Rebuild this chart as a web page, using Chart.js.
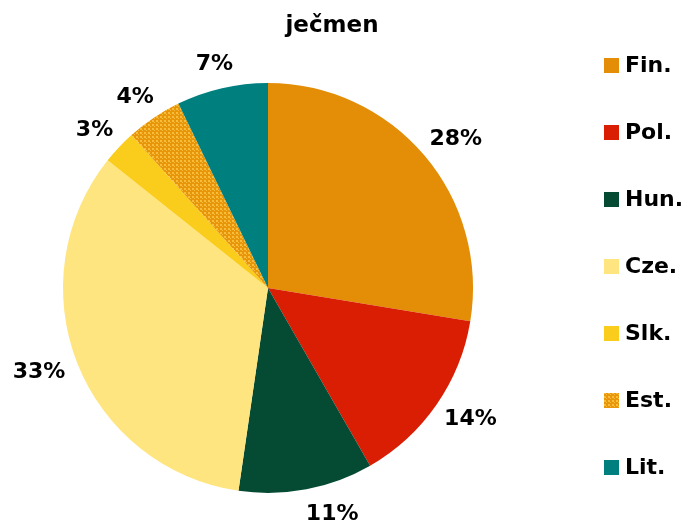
<!DOCTYPE html>
<html>
<head>
<meta charset="utf-8">
<script src="https://cdn.jsdelivr.net/npm/chart.js@4/dist/chart.umd.min.js"></script>
<style>
  html, body { margin: 0; padding: 0; background: #fff; }
  #wrap { width: 682px; height: 520px; }
</style>
</head>
<body>
<div id="wrap"><canvas id="c" width="682" height="520"></canvas></div>
<script>
// chart data (shares in %)
const titleText = 'ječmen';
const countries = ['Fin.', 'Pol.', 'Hun.', 'Cze.', 'Slk.', 'Est.', 'Lit.'];
const shares = [27.6, 14.1, 10.6, 33.4, 2.7, 4.4, 7.2];
const sliceColors = ['#E38E06', '#D91E04', '#054A32', '#FFE57F', '#FACC1C', null, '#007F7F'];

const FONT = '"DejaVu Sans", Verdana, sans-serif';

// dotted orange fill for Est.
function makeDots() {
    const p = document.createElement('canvas');
    p.width = 4; p.height = 4;
    const g = p.getContext('2d');
    g.fillStyle = '#E8950A';
    g.fillRect(0, 0, 4, 4);
    g.fillStyle = '#F7BE3C';
    g.fillRect(0, 0, 2, 2);
    g.fillRect(2, 2, 1, 1);
    return g.createPattern(p, 'repeat');
}

const ctx = document.getElementById('c').getContext('2d');
const dots = makeDots();
const fills = sliceColors.map(c => c || dots);

const total = shares.reduce((a, b) => a + b, 0);

// title + legend drawn at fixed spots like the original
const sidePlugin = {
    id: 'side',
    afterDraw(chart) {
        const g = chart.ctx;
        g.save();
        g.fillStyle = '#000';
        g.font = 'bold 23px ' + FONT;
        g.textAlign = 'center';
        g.textBaseline = 'alphabetic';
        g.fillText(titleText, 332, 32);

        g.font = 'bold 22px ' + FONT;
        g.textAlign = 'left';
        g.textBaseline = 'middle';
        countries.forEach((name, i) => {
            const cy = 65.5 + i * 67;
            g.fillStyle = fills[i];
            g.fillRect(604, cy - 7.5, 15, 15);
            g.fillStyle = '#000';
            g.fillText(name, 625, cy + 1);
        });
        g.restore();
    }
};

// percentage labels outside the slices
const pctPlugin = {
    id: 'pct',
    afterDatasetsDraw(chart) {
        const g = chart.ctx;
        const meta = chart.getDatasetMeta(0);
        g.save();
        g.font = 'bold 22px ' + FONT;
        g.fillStyle = '#000';
        g.textAlign = 'center';
        g.textBaseline = 'middle';
        meta.data.forEach((arc, i) => {
            const p = arc.getProps(['x', 'y', 'startAngle', 'endAngle', 'outerRadius'], true);
            const mid = (p.startAngle + p.endAngle) / 2;
            const txt = Math.round(shares[i] / total * 100) + '%';
            const w = g.measureText(txt).width / 2;
            const h = 10;
            const r = p.outerRadius + 15;
            let cx = p.x + Math.cos(mid) * (r + w);
            const cy = p.y + Math.sin(mid) * (r + h);
            // bottom label sits a bit to the right in the original
            if (Math.sin(mid) > 0.95) cx += 18;
            g.fillText(txt, cx, cy);
        });
        g.restore();
    }
};

new Chart(ctx, {
    type: 'pie',
    data: {
        labels: countries,
        datasets: [{
            data: shares,
            backgroundColor: fills,
            borderWidth: 0
        }]
    },
    options: {
        responsive: false,
        animation: false,
        layout: { padding: { left: 63, right: 209, top: 83, bottom: 27 } },
        plugins: {
            legend: { display: false },
            title: { display: false },
            tooltip: { enabled: false }
        }
    },
    plugins: [pctPlugin, sidePlugin]
});
</script>
</body>
</html>
